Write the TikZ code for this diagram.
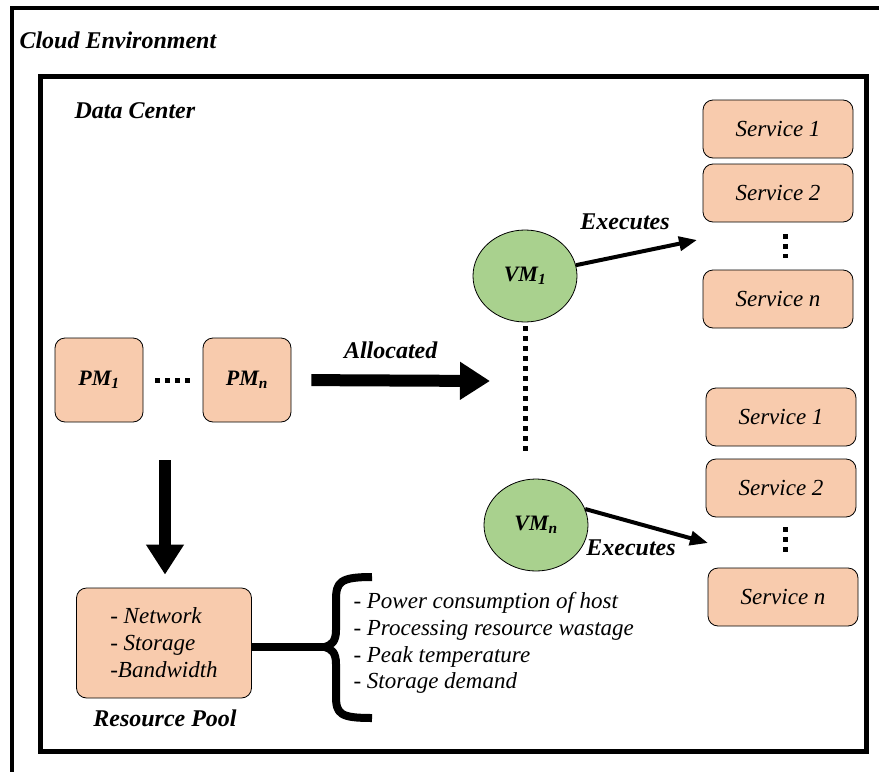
\documentclass[tikz,border=0pt]{standalone}
\usepackage{fontspec}
\setmainfont{Liberation Serif}
\usetikzlibrary{arrows.meta,positioning,shapes.geometric}

\definecolor{peach}{HTML}{F8CBAD}
\definecolor{vmgreen}{HTML}{A9D18E}

\begin{document}
\begin{tikzpicture}[x=1pt,y=-1pt,
  box/.style={draw, thick, fill=peach, rounded corners=10pt, align=left,
    font=\fontsize{23}{27}\selectfont\itshape},
  pmbox/.style={box, minimum width=88pt, minimum height=84pt,
    font=\fontsize{22}{26}\selectfont\bfseries\itshape},
  servbox/.style={box, minimum width=150pt, minimum height=58pt},
  vmnode/.style={draw, thick, ellipse, fill=vmgreen, inner sep=0pt,
    minimum width=104pt, minimum height=92pt,
    font=\fontsize{22}{26}\selectfont\bfseries\itshape},
  title/.style={font=\fontsize{24}{28}\selectfont\bfseries\itshape},
  lbl/.style={font=\fontsize{24}{28}\selectfont\bfseries\itshape},
  dots/.style={line width=5pt, dash pattern=on 5pt off 5pt},
  bigarrow/.style={line width=12pt, -{Triangle[width=36pt,length=30pt]}},
  execarrow/.style={line width=4pt, -{Triangle[width=14pt,length=18pt]}}]
  \useasboundingbox (0,0) rectangle (879,774);

  % frames
  \draw[line width=4pt] (879,8) -- (12,8) -- (12,772);
  \draw[line width=5pt] (40,76) rectangle (866,751);
  \node[title, anchor=west] (cloud) at (16,40) {Cloud Environment};
  \node[title, anchor=west] (dc) at (71,111) {Data Center};

  % physical machines
  \node[pmbox] (pm1) at (99,380) {PM\textsubscript{1}};
  \node[pmbox] (pmn) at (247,380) {PM\textsubscript{n}};
  \draw[dots, shorten <=12pt, shorten >=12pt] (pm1) -- (pmn);

  % virtual machines
  \node[vmnode] (vm1) at (525,276) {VM\textsubscript{1}};
  \node[vmnode] (vmn) at (536,525) {VM\textsubscript{n}};
  \coordinate (vmdots) at (525,452);
  \draw[dots, shorten <=4pt] (vm1.south) -- (vmdots);

  \coordinate (alloc) at (490,381);
  \draw[bigarrow, shorten <=20pt] (pmn.east) -- (alloc)
    node[lbl, midway, above=12pt] {Allocated};

  % services
  \node[servbox] (s11) at (778,129) {Service 1};
  \node[servbox] (s12) at (778,193) {Service 2};
  \node[servbox] (s1n) at (778,299) {Service n};
  \draw[dots, shorten <=12pt, shorten >=12pt] (s12.south -| 785,0) -- (s1n.north -| 785,0);

  \node[servbox] (s21) at (781,417) {Service 1};
  \node[servbox] (s22) at (781,488) {Service 2};
  \node[servbox] (s2n) at (783,597) {Service n};
  \draw[dots, shorten <=10pt, shorten >=14pt] (s22.south -| 785,0) -- (s2n.north -| 785,0);

  \coordinate (ex1) at (697,240);
  \coordinate (ex2) at (708,543);
  \draw[execarrow] (vm1.12) -- (ex1);
  \node[lbl] (exlbl1) at (625,222) {Executes};
  \draw[execarrow] (vmn.18) -- (ex2);
  \node[lbl] (exlbl2) at (631,548) {Executes};

  % resource pool
  \node[box, minimum width=175pt, minimum height=110pt] (res) at (164,643)
    {- Network\\- Storage\\-Bandwidth};
  \node[lbl] (reslbl) at (165,718) {Resource Pool};
  \coordinate (down) at (165,460);
  \draw[bigarrow, shorten >=13pt] (down) -- (res.north -| down);

  % objectives
  \coordinate (brace) at (325,647);
  \draw[line width=8pt] (res.east |- brace) -- (brace);
  \draw[line width=8pt, line join=round]
    (372,577) .. controls (340,577) and (336,582) .. (336,600)
    -- (336,630) .. controls (336,641) and (332,645) .. (brace)
    .. controls (332,649) and (336,653) .. (336,664)
    -- (336,696) .. controls (336,714) and (340,718) .. (372,718);
  \node[anchor=west, align=left, font=\fontsize{23}{26.7}\selectfont\itshape] (obj) at (350,643)
    {- Power consumption of host\\- Processing resource wastage\\- Peak temperature\\- Storage demand};
\end{tikzpicture}
\end{document}
